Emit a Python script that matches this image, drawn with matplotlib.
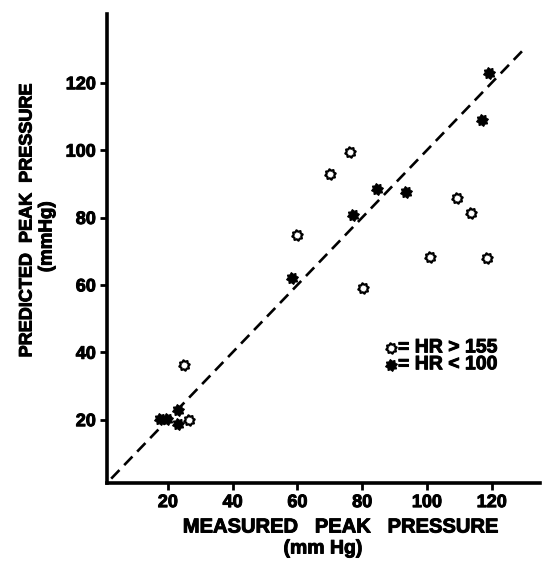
import numpy as np
import matplotlib
matplotlib.use("Agg")
import matplotlib.pyplot as plt
from matplotlib.path import Path
import matplotlib.patheffects as pe

plt.rcParams['font.family'] = ['Liberation Sans', 'DejaVu Sans']
plt.rcParams['font.weight'] = 'bold'

# measured vs predicted peak pressure (mm Hg)
hr_high_x = [25.0, 26.5, 59.8, 70.0, 76.2, 80.3, 100.9, 109.2, 113.7, 118.4]
hr_high_y = [36.2, 19.9, 74.7, 93.0, 99.5, 59.1, 68.3, 85.8, 81.4, 67.9]
hr_low_x = [17.6, 19.6, 23.0, 23.2, 58.2, 77.3, 84.7, 93.4, 116.9, 119.0]
hr_low_y = [20.1, 20.2, 23.0, 18.6, 61.9, 80.7, 88.6, 87.6, 108.9, 123.0]
ticks = [20, 40, 60, 80, 100, 120]
identity = [2.5, 130]

# little cog shape for the markers
ang = np.linspace(0, 2 * np.pi, 17)[:-1] + np.pi / 16
rad = np.where(np.arange(16) % 2 == 0, 1.0, 0.72)
verts = np.column_stack([rad * np.cos(ang), rad * np.sin(ang)])
verts = np.vstack([verts, verts[:1]])
codes = [Path.MOVETO] + [Path.LINETO] * 15 + [Path.CLOSEPOLY]
cog = Path(verts, codes)

open_style = dict(ls='none', marker=cog, ms=7.5, mfc='white', mec='black', mew=1.6)
fill_style = dict(ls='none', marker=cog, ms=8.5, mfc='black', mec='black', mew=0.8)
heavy = [pe.withStroke(linewidth=0.7, foreground='black')]

fig = plt.figure(figsize=(5.53, 5.67), dpi=100)
ax = fig.add_axes([107 / 553, 84 / 567, 433 / 553, 469 / 567])

ax.plot(identity, identity, color='black', lw=1.9, dashes=(4.5, 2.6))
ax.plot(hr_high_x, hr_high_y, **open_style)
ax.plot(hr_low_x, hr_low_y, **fill_style)

ax.set_xlim(1.2, 134.9)
ax.set_ylim(1.2, 140.4)
ax.set_xticks(ticks)
ax.set_yticks(ticks)
for s in ['top', 'right']:
    ax.spines[s].set_visible(False)
for s in ['left', 'bottom']:
    ax.spines[s].set_linewidth(2.6)
ax.tick_params(direction='out', length=5, width=2, labelsize=13, pad=3)
for lab in ax.get_xticklabels() + ax.get_yticklabels():
    lab.set_fontweight('bold')
    lab.set_path_effects(heavy)

txt = dict(ha='center', va='center', fontweight='bold', path_effects=heavy)
fig.text(341 / 553, 1 - 527 / 567, 'MEASURED   PEAK   PRESSURE', fontsize=14.5, **txt)
fig.text(323 / 553, 1 - 549 / 567, '(mm Hg)', fontsize=14, **txt)
fig.text(27 / 553, 1 - 220 / 567, 'PREDICTED  PEAK  PRESSURE', rotation=90,
         fontsize=13, **txt)
fig.text(47 / 553, 1 - 237 / 567, '(mmHg)', rotation=90, fontsize=13.5, **txt)

# key
ax.plot([0.655], [0.288], transform=ax.transAxes, clip_on=False, **open_style)
ax.plot([0.655], [0.252], transform=ax.transAxes, clip_on=False, **fill_style)
ax.text(0.672, 0.288, '= HR > 155', transform=ax.transAxes, va='center',
        fontsize=14, fontweight='bold', path_effects=heavy)
ax.text(0.672, 0.252, '= HR < 100', transform=ax.transAxes, va='center',
        fontsize=14, fontweight='bold', path_effects=heavy)

fig.savefig('out.png', dpi=100)
